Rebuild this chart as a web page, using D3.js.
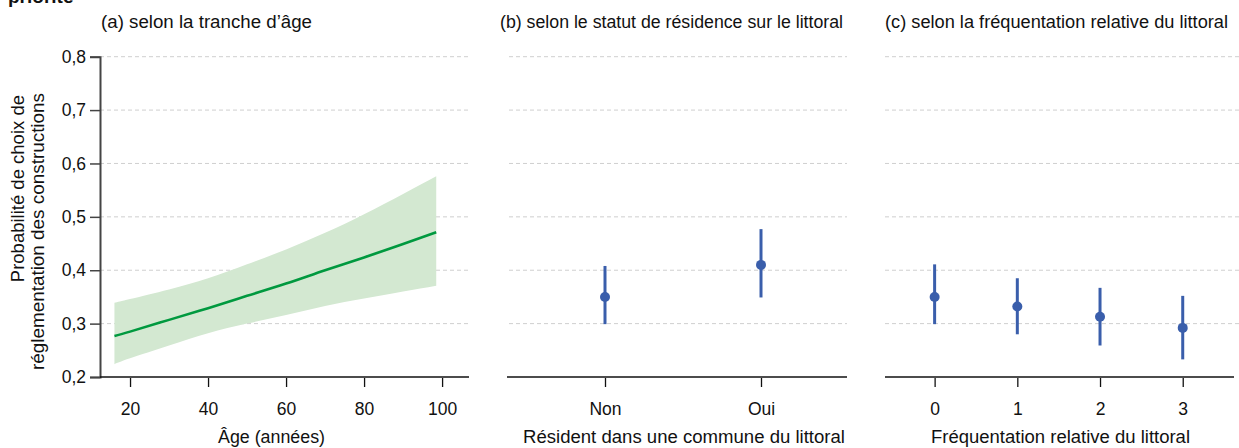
<!DOCTYPE html>
<html lang="fr">
<head>
<meta charset="utf-8">
<script src="https://cdn.jsdelivr.net/npm/d3@7"></script>
<style>
  html, body { margin: 0; padding: 0; background: #fff; }
  svg { display: block; font-family: "Liberation Sans", Arial, sans-serif; }
</style>
</head>
<body>
<svg id="chart" width="1239" height="448"></svg>
<script>
// (a) predicted probability by age, with confidence band
const ages      = [16, 20, 30, 40, 50, 60, 70, 80, 90, 98.5];
const ageFit    = [0.277, 0.285, 0.307, 0.329, 0.352, 0.375, 0.400, 0.424, 0.449, 0.471];
const ageLower  = [0.224, 0.235, 0.259, 0.282, 0.300, 0.316, 0.333, 0.347, 0.360, 0.371];
const ageUpper  = [0.339, 0.346, 0.364, 0.385, 0.411, 0.439, 0.470, 0.505, 0.543, 0.576];
const ageTicks  = [20, 40, 60, 80, 100];

// (b) by coastal residence
const residence      = ["Non", "Oui"];
const residenceFit   = [0.350, 0.410];
const residenceLower = [0.299, 0.349];
const residenceUpper = [0.408, 0.477];

// (c) by relative coastal frequentation
const frequentation      = [0, 1, 2, 3];
const frequentationFit   = [0.350, 0.332, 0.313, 0.292];
const frequentationLower = [0.299, 0.280, 0.259, 0.233];
const frequentationUpper = [0.411, 0.385, 0.367, 0.352];

const yTicks = [0.2, 0.3, 0.4, 0.5, 0.6, 0.7, 0.8];
const gridTicks = [0.3, 0.4, 0.5, 0.6, 0.7, 0.8];

const svg = d3.select("#chart");
const fmt = d => d3.format(".1f")(d).replace(".", ",");
const FS = 17.5;

const y = d3.scaleLinear().domain([0.2, 0.8]).range([377, 56.7]);

const GREEN = "#00993f", BAND = "#d3e8d1", BLUE = "#3a5eab", GRID = "#cfcfcf";

// Header fragment at the very top
svg.append("text").attr("x", 8).attr("y", 3)
  .attr("font-size", 19).attr("font-weight", "bold").attr("fill", "#111")
  .text("priorité");

function grid(x0, x1) {
  svg.append("g").selectAll("line").data(gridTicks).join("line")
    .attr("x1", x0).attr("x2", x1)
    .attr("y1", d => y(d)).attr("y2", d => y(d))
    .attr("stroke", GRID).attr("stroke-width", 1).attr("stroke-dasharray", "4,3");
}

function xAxis(scale, ticks, fmtFn, x0, x1) {
  const g = svg.append("g").attr("transform", `translate(0,${y(0.2)})`);
  g.append("line").attr("x1", x0).attr("x2", x1).attr("stroke", "#111").attr("stroke-width", 1.4);
  const ax = d3.axisBottom(scale).tickValues(ticks).tickFormat(fmtFn).tickSize(9).tickPadding(16);
  const a = svg.append("g").attr("transform", `translate(0,${y(0.2) + 1})`).call(ax);
  a.select(".domain").remove();
  a.selectAll(".tick line").attr("stroke", "#111").attr("stroke-width", 1.3);
  a.selectAll(".tick text").attr("font-size", FS).attr("fill", "#111")
    .attr("font-family", "Liberation Sans, Arial, sans-serif");
}

function title(x, txt, len) {
  svg.append("text").attr("x", x).attr("y", 28).attr("font-size", FS).attr("fill", "#111")
    .attr("textLength", len).attr("lengthAdjust", "spacingAndGlyphs").text(txt);
}

function axisTitle(x0, txt, len) {
  svg.append("text").attr("x", x0).attr("y", 443)
    .attr("font-size", FS).attr("fill", "#111")
    .attr("textLength", len).attr("lengthAdjust", "spacingAndGlyphs").text(txt);
}

// ---------- Panel (a) ----------
const xa = d3.scaleLinear().domain([12.3, 106.9]).range([100, 469]);
grid(100, 469);

const band = d3.area().x((d, i) => xa(ages[i])).y0((d, i) => y(ageLower[i])).y1((d, i) => y(ageUpper[i]))
  .curve(d3.curveNatural);
svg.append("path").datum(ages).attr("d", band).attr("fill", BAND);

const line = d3.line().x((d, i) => xa(ages[i])).y((d, i) => y(ageFit[i])).curve(d3.curveNatural);
svg.append("path").datum(ages).attr("d", line).attr("fill", "none")
  .attr("stroke", GREEN).attr("stroke-width", 2.6);

// y axis
const ya = svg.append("g").attr("transform", "translate(100,0)")
  .call(d3.axisLeft(y).tickValues(yTicks).tickFormat(fmt).tickSize(10).tickPadding(4));
ya.select(".domain").attr("stroke", "#444").attr("stroke-width", 2);
ya.selectAll(".tick line").attr("stroke", "#444").attr("stroke-width", 1.5);
ya.selectAll(".tick text").attr("font-size", FS).attr("fill", "#111")
  .attr("font-family", "Liberation Sans, Arial, sans-serif");

xAxis(xa, ageTicks, d => d, 100, 469);
title(101, "(a) selon la tranche d’âge", 211);
axisTitle(218, "Âge (années)", 107);

// y axis title (two lines)
const yt = svg.append("text").attr("transform", "rotate(-90)").attr("text-anchor", "end")
  .attr("font-size", 18.5).attr("fill", "#111");
yt.append("tspan").attr("x", -95).attr("y", 24).text("Probabilité de choix de");
yt.append("tspan").attr("x", -93).attr("y", 44).attr("textLength", 277)
  .attr("lengthAdjust", "spacingAndGlyphs").text("réglementation des constructions");

// ---------- Panel (b) ----------
const xb = d3.scalePoint().domain(residence).range([605, 761]);
grid(509, 847);
const pb = svg.append("g");
pb.selectAll("line.err").data(residence).join("line").attr("class", "err")
  .attr("x1", d => xb(d)).attr("x2", d => xb(d))
  .attr("y1", (d, i) => y(residenceLower[i])).attr("y2", (d, i) => y(residenceUpper[i]))
  .attr("stroke", BLUE).attr("stroke-width", 3);
pb.selectAll("circle").data(residence).join("circle")
  .attr("cx", d => xb(d)).attr("cy", (d, i) => y(residenceFit[i])).attr("r", 5).attr("fill", BLUE);
xAxis(xb, residence, d => d, 507, 847);
title(500, "(b) selon le statut de résidence sur le littoral", 343);
axisTitle(523, "Résident dans une commune du littoral", 322);

// ---------- Panel (c) ----------
const xc = d3.scaleLinear().domain([-0.6, 3.62]).range([885, 1234]);
grid(885, 1239);
const pc = svg.append("g");
pc.selectAll("line.err").data(frequentation).join("line").attr("class", "err")
  .attr("x1", d => xc(d)).attr("x2", d => xc(d))
  .attr("y1", (d, i) => y(frequentationLower[i])).attr("y2", (d, i) => y(frequentationUpper[i]))
  .attr("stroke", BLUE).attr("stroke-width", 3);
pc.selectAll("circle").data(frequentation).join("circle")
  .attr("cx", d => xc(d)).attr("cy", (d, i) => y(frequentationFit[i])).attr("r", 5).attr("fill", BLUE);
xAxis(xc, frequentation, d => d, 885, 1234);
title(885, "(c) selon la fréquentation relative du littoral", 343);
axisTitle(931, "Fréquentation relative du littoral", 259);
</script>
</body>
</html>
